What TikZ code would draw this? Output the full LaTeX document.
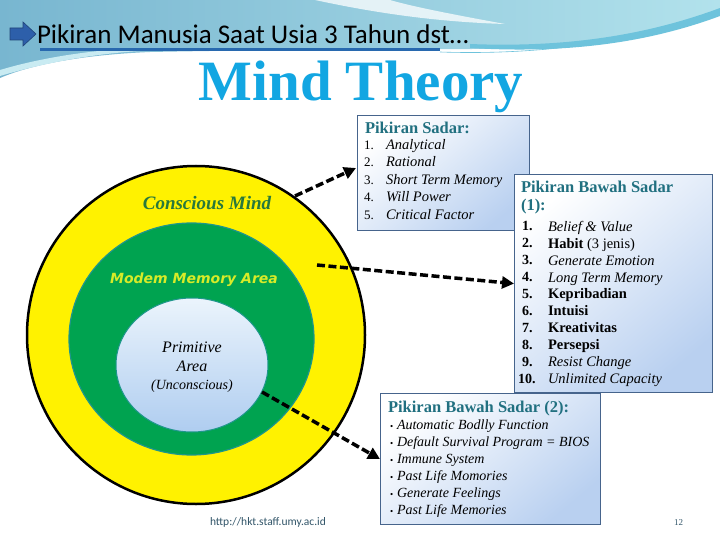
\documentclass[tikz,border=0pt]{standalone}
\usepackage{fontspec}
\setmainfont{Liberation Serif}
\newfontfamily\calfont{Carlito}
\newfontfamily\verfont{DejaVu Sans}
\usetikzlibrary{arrows.meta,shapes.geometric}
\definecolor{mindblue}{RGB}{18,166,226}
\definecolor{headteal}{RGB}{33,112,128}
\definecolor{boxborder}{RGB}{70,100,140}
\definecolor{boxblue}{RGB}{185,208,240}
\definecolor{ringgreen}{RGB}{0,163,80}
\definecolor{ringedge}{RGB}{30,150,140}
\definecolor{memyellow}{RGB}{215,235,40}
\definecolor{conscgreen}{RGB}{40,120,60}
\definecolor{bandL}{RGB}{120,182,208}
\definecolor{bandR}{RGB}{178,226,236}
\definecolor{bandD}{RGB}{110,195,220}
\definecolor{titleblue}{RGB}{45,95,170}
\definecolor{lineblue}{RGB}{40,105,175}
\definecolor{footcol}{RGB}{50,85,105}
\definecolor{innerblue}{RGB}{175,205,240}
\tikzset{
  txt/.style={anchor=base west, inner sep=0pt, outer sep=0pt},
  infobox/.style={draw=boxborder, line width=1.2pt, anchor=north west, inner sep=0pt,
    top color=white, bottom color=boxblue, shading angle=40},
  itm/.style={txt, font=\fontsize{14.5}{17}\selectfont\itshape},
  num/.style={txt, font=\fontsize{13}{17}\selectfont},
  bnum/.style={txt, font=\fontsize{14}{17}\selectfont\bfseries},
  head/.style={txt, text=headteal, font=\fontsize{16.5}{19}\selectfont\bfseries},
  conn/.style={line width=3.5pt, dash pattern=on 8pt off 3.5pt, -{Triangle[length=12pt,width=12pt]}},
}
\begin{document}
\begin{tikzpicture}[x=1pt,y=-1pt]
\useasboundingbox (0,0) rectangle (720,540);
\fill[white] (0,0) rectangle (720,540);
% background band
\shade[left color=bandL, right color=bandR]
  (0,0) -- (720,0) -- (720,12) .. controls (680,30) and (620,46) .. (550,48)
  .. controls (450,50) and (300,49) .. (150,52) .. controls (80,55) and (30,65) .. (0,78) -- cycle;
\fill[white, opacity=0.75] (315,0) .. controls (380,14) and (440,22) .. (505,24)
  .. controls (450,14) and (410,6) .. (390,0) -- cycle;
\fill[bandD] (470,44) .. controls (570,48) and (650,34) .. (720,8) -- (720,16)
  .. controls (650,42) and (570,54) .. (470,48) -- cycle;
\draw[bandD, line width=0.6pt] (440,52) .. controls (560,56) and (650,36) .. (720,14);
\fill[bandR!70!white] (0,70) .. controls (40,58) and (90,50) .. (140,48) -- (140,51)
  .. controls (90,54) and (40,64) .. (0,76) -- cycle;
% title
\fill[titleblue, draw=titleblue!70!black, line width=0.6pt]
  (10,28) -- (23,28) -- (23,22) -- (36,34) -- (23,46) -- (23,40) -- (10,40) -- cycle;
\node[txt, font=\calfont\fontsize{27}{30}\selectfont] (title) at (37,44) {Pikiran Manusia Saat Usia 3 Tahun dst…};
\draw[lineblue, line width=3pt] (40,50) -- (440,50);
\node[anchor=base, inner sep=0pt, text=mindblue, font=\fontsize{57}{60}\selectfont\bfseries] (mind) at (361,101) {Mind Theory};
% circles
\node[circle, draw=black, line width=2.5pt, fill=yellow, minimum size=338pt, inner sep=0pt] (outer) at (196,335) {};
\node[ellipse, draw=ringedge, line width=1.2pt, fill=ringgreen, minimum width=245pt, minimum height=232pt, inner sep=0pt] (middle) at (191.5,339) {};
\node[ellipse, draw=ringedge, line width=1pt, top color={rgb,255:red,235;green,244;blue,252}, middle color=white, bottom color=innerblue, minimum width=152pt, minimum height=134pt, inner sep=0pt] (inner) at (192,365) {};
\node[anchor=base, inner sep=0pt, text=conscgreen, font=\fontsize{19}{22}\selectfont\bfseries\itshape] (consc) at (207,210) {Conscious Mind};
\node[anchor=base, inner sep=0pt, text=memyellow, font=\verfont\fontsize{14}{17}\selectfont\bfseries\itshape] (modem) at (194,283) {Modem Memory Area};
\node[anchor=base, inner sep=0pt, font=\fontsize{16}{19}\selectfont\itshape] (prim) at (192,352) {Primitive};
\node[anchor=base, inner sep=0pt, font=\fontsize{16}{19}\selectfont\itshape] (area) at (192,371) {Area};
\node[anchor=base, inner sep=0pt, font=\fontsize{14}{17}\selectfont\itshape] (uncon) at (192,389) {(Unconscious)};
% box 1
\node[infobox, minimum width=172pt, minimum height=115pt] (b1) at (357,115) {};
\node[head] (h1) at (365,134) {Pikiran Sadar:};
\foreach \t [count=\i] in {Analytical,Rational,Short Term Memory,Will Power,Critical Factor}{
  \node[num] (n1\i) at (364,132+17.5*\i) {\i.};
  \node[itm] (a1\i) at (386,132+17.5*\i) {\t};
}
% box 2
\node[infobox, minimum width=198pt, minimum height=218pt] (b2) at (514,174) {};
\node[head] (h2a) at (521,193) {Pikiran Bawah Sadar};
\node[head] (h2b) at (521,211) {(1):};
\foreach \i in {1,...,9}{
  \node[bnum] (n2\i) at (522,214+16.9*\i) {\i.};
}
\node[bnum] (n210) at (518,383) {10.};
\node[itm] (a21) at (548,231) {Belief \& Value};
\node[txt, font=\fontsize{14.5}{17}\selectfont] (a22) at (548,248) {\textbf{Habit} (3 jenis)};
\node[itm] (a23) at (548,265) {Generate Emotion};
\node[itm] (a24) at (548,282) {Long Term Memory};
\node[txt, font=\fontsize{14.5}{17}\selectfont\bfseries] (a25) at (548,298.5) {Kepribadian};
\node[txt, font=\fontsize{14.5}{17}\selectfont\bfseries] (a26) at (548,315.5) {Intuisi};
\node[txt, font=\fontsize{14.5}{17}\selectfont\bfseries] (a27) at (548,332) {Kreativitas};
\node[txt, font=\fontsize{14.5}{17}\selectfont\bfseries] (a28) at (548,349) {Persepsi};
\node[itm] (a29) at (548,366) {Resist Change};
\node[itm] (a210) at (548,383) {Unlimited Capacity};
% box 3
\node[infobox, minimum width=220pt, minimum height=131pt] (b3) at (380,393) {};
\node[head] (h3) at (388,412) {Pikiran Bawah Sadar (2):};
\foreach \t [count=\i] in {Automatic Bodlly Function,Default Survival Program = BIOS,Immune System,Past Life Momories,Generate Feelings,Past Life Memories}{
  \node[txt, font=\fontsize{9}{17}\selectfont] (bl\i) at (390,412+17*\i) {\textbullet};
  \node[txt, font=\fontsize{14}{17}\selectfont\itshape] (a3\i) at (397,412+17*\i) {\t};
}
% connectors
\coordinate (s1) at (295,196);
\coordinate (e1) at (356,168);
\coordinate (s2) at (317,265);
\coordinate (s3) at (262,392);
\draw[conn] (s1) -- (e1);
\draw[conn] (s2) -- (b2.west);
\draw[conn] (s3) -- (b3.west);
% footer
\node[txt, text=footcol, font=\calfont\fontsize{11.5}{13}\selectfont] (url) at (210,525) {http://hkt.staff.umy.ac.id};
\node[txt, text=footcol, font=\fontsize{9}{11}\selectfont] (page) at (674,525) {12};
\end{tikzpicture}
\end{document}
